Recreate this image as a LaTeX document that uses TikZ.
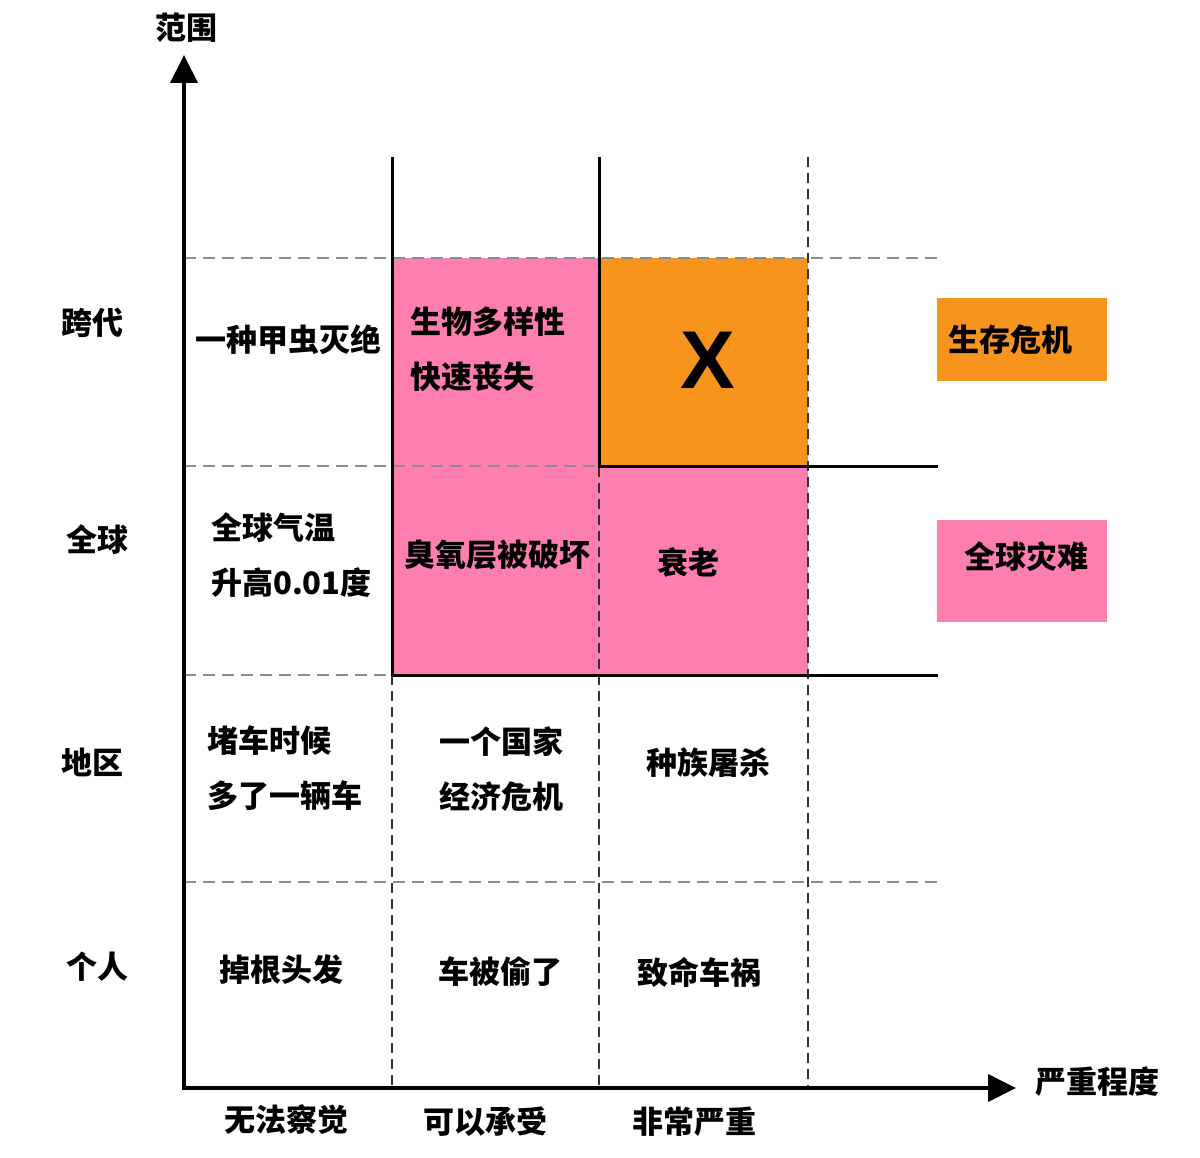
\documentclass[tikz,border=0pt]{standalone}
\usepackage{fontspec}
\newfontfamily\cjk{Noto Sans CJK SC}
\setmainfont{Liberation Sans}
\usetikzlibrary{arrows.meta}
\definecolor{pinkc}{HTML}{FF7EB0}
\definecolor{orangec}{HTML}{F7941D}
\definecolor{gridgray}{HTML}{8C8C8C}
\definecolor{vdash}{HTML}{333333}
\tikzset{
  lbl/.style={inner sep=0pt, font=\cjk\bfseries\fontsize{31}{55}\selectfont, text=black},
  lbll/.style={lbl, align=left, anchor=west},
  hgrid/.style={gridgray, line width=2.5pt, dash pattern=on 12pt off 7pt},
  vgrid/.style={vdash, line width=1.5pt, dash pattern=on 10pt off 6pt},
  solidline/.style={black, line width=3pt},
  axis/.style={black, line width=4pt, -{Triangle[length=28pt,width=27pt]}},
}
\begin{document}
\begin{tikzpicture}[x=1pt,y=-1pt]
\useasboundingbox[fill=white] (0,0) rectangle (1200,1158);
% fills
\fill[pinkc] (392,258) rectangle (808,675);
\fill[orangec] (599,258) rectangle (808,467);
% legend
\node[fill=orangec, minimum width=170pt, minimum height=83pt, inner sep=0pt] (legO) at (1022,339.5) {};
\node[fill=pinkc, minimum width=170pt, minimum height=102pt, inner sep=0pt] (legP) at (1022,571) {};
% horizontal grid
\draw[hgrid] (184,258) -- (938,258);
\draw[hgrid] (184,466) -- (599,466);
\draw[hgrid] (184,675) -- (392,675);
\draw[hgrid] (184,882) -- (938,882);
% vertical grid
\draw[vgrid] (808,157) -- (808,1088);
\draw[vgrid] (392,675) -- (392,1088);
\draw[vgrid] (599,467) -- (599,1088);
% solid lines
\draw[solidline] (392,157) -- (392,676);
\draw[solidline] (599,157) -- (599,467.5);
\draw[solidline] (599,466) -- (938,466);
\draw[solidline] (392,675) -- (938,675);
% axes
\coordinate (O) at (184,1088);
\coordinate (ytip) at (184,55);
\coordinate (xtip) at (1016,1088);
\draw[axis] (184,1090) -- (ytip);
\draw[axis] (182,1088) -- (xtip);
% axis labels
\node[lbl] (yl) at (186,28) {范围};
\node[lbl] (xl) at (1097,1082) {严重程度};
\node[lbl] (r1) at (92,323) {跨代};
\node[lbl] (r2) at (97,540) {全球};
\node[lbl] (r3) at (92,762) {地区};
\node[lbl] (r4) at (97,967) {个人};
\node[lbl] (c1) at (286,1120) {无法察觉};
\node[lbl] (c2) at (485,1122) {可以承受};
\node[lbl] (c3) at (694,1122) {非常严重};
% cells
\node[lbl] (a1) at (288,340) {一种甲虫灭绝};
\node[lbll] (a2) at (410,349.5) {生物多样性\\快速丧失};
\node[inner sep=0pt, font=\bfseries\fontsize{82}{82}\selectfont] (ax) at (708,360) {X};
\node[lbll] (b1) at (211,555) {全球气温\\升高0.01度};
\node[lbl] (b2) at (497,555) {臭氧层被破坏};
\node[lbl] (b3) at (688,562) {衰老};
\node[lbll] (d1) at (207,768) {堵车时候\\多了一辆车};
\node[lbll] (d2) at (439,769.5) {一个国家\\经济危机};
\node[lbl] (d3) at (708,763) {种族屠杀};
\node[lbl] (e1) at (281,970) {掉根头发};
\node[lbl] (e2) at (500,972) {车被偷了};
\node[lbl] (e3) at (699,972) {致命车祸};
% legend texts
\node[lbl] (lt1) at (1010,340) {生存危机};
\node[lbl] (lt2) at (1026,557) {全球灾难};
\end{tikzpicture}
\end{document}
